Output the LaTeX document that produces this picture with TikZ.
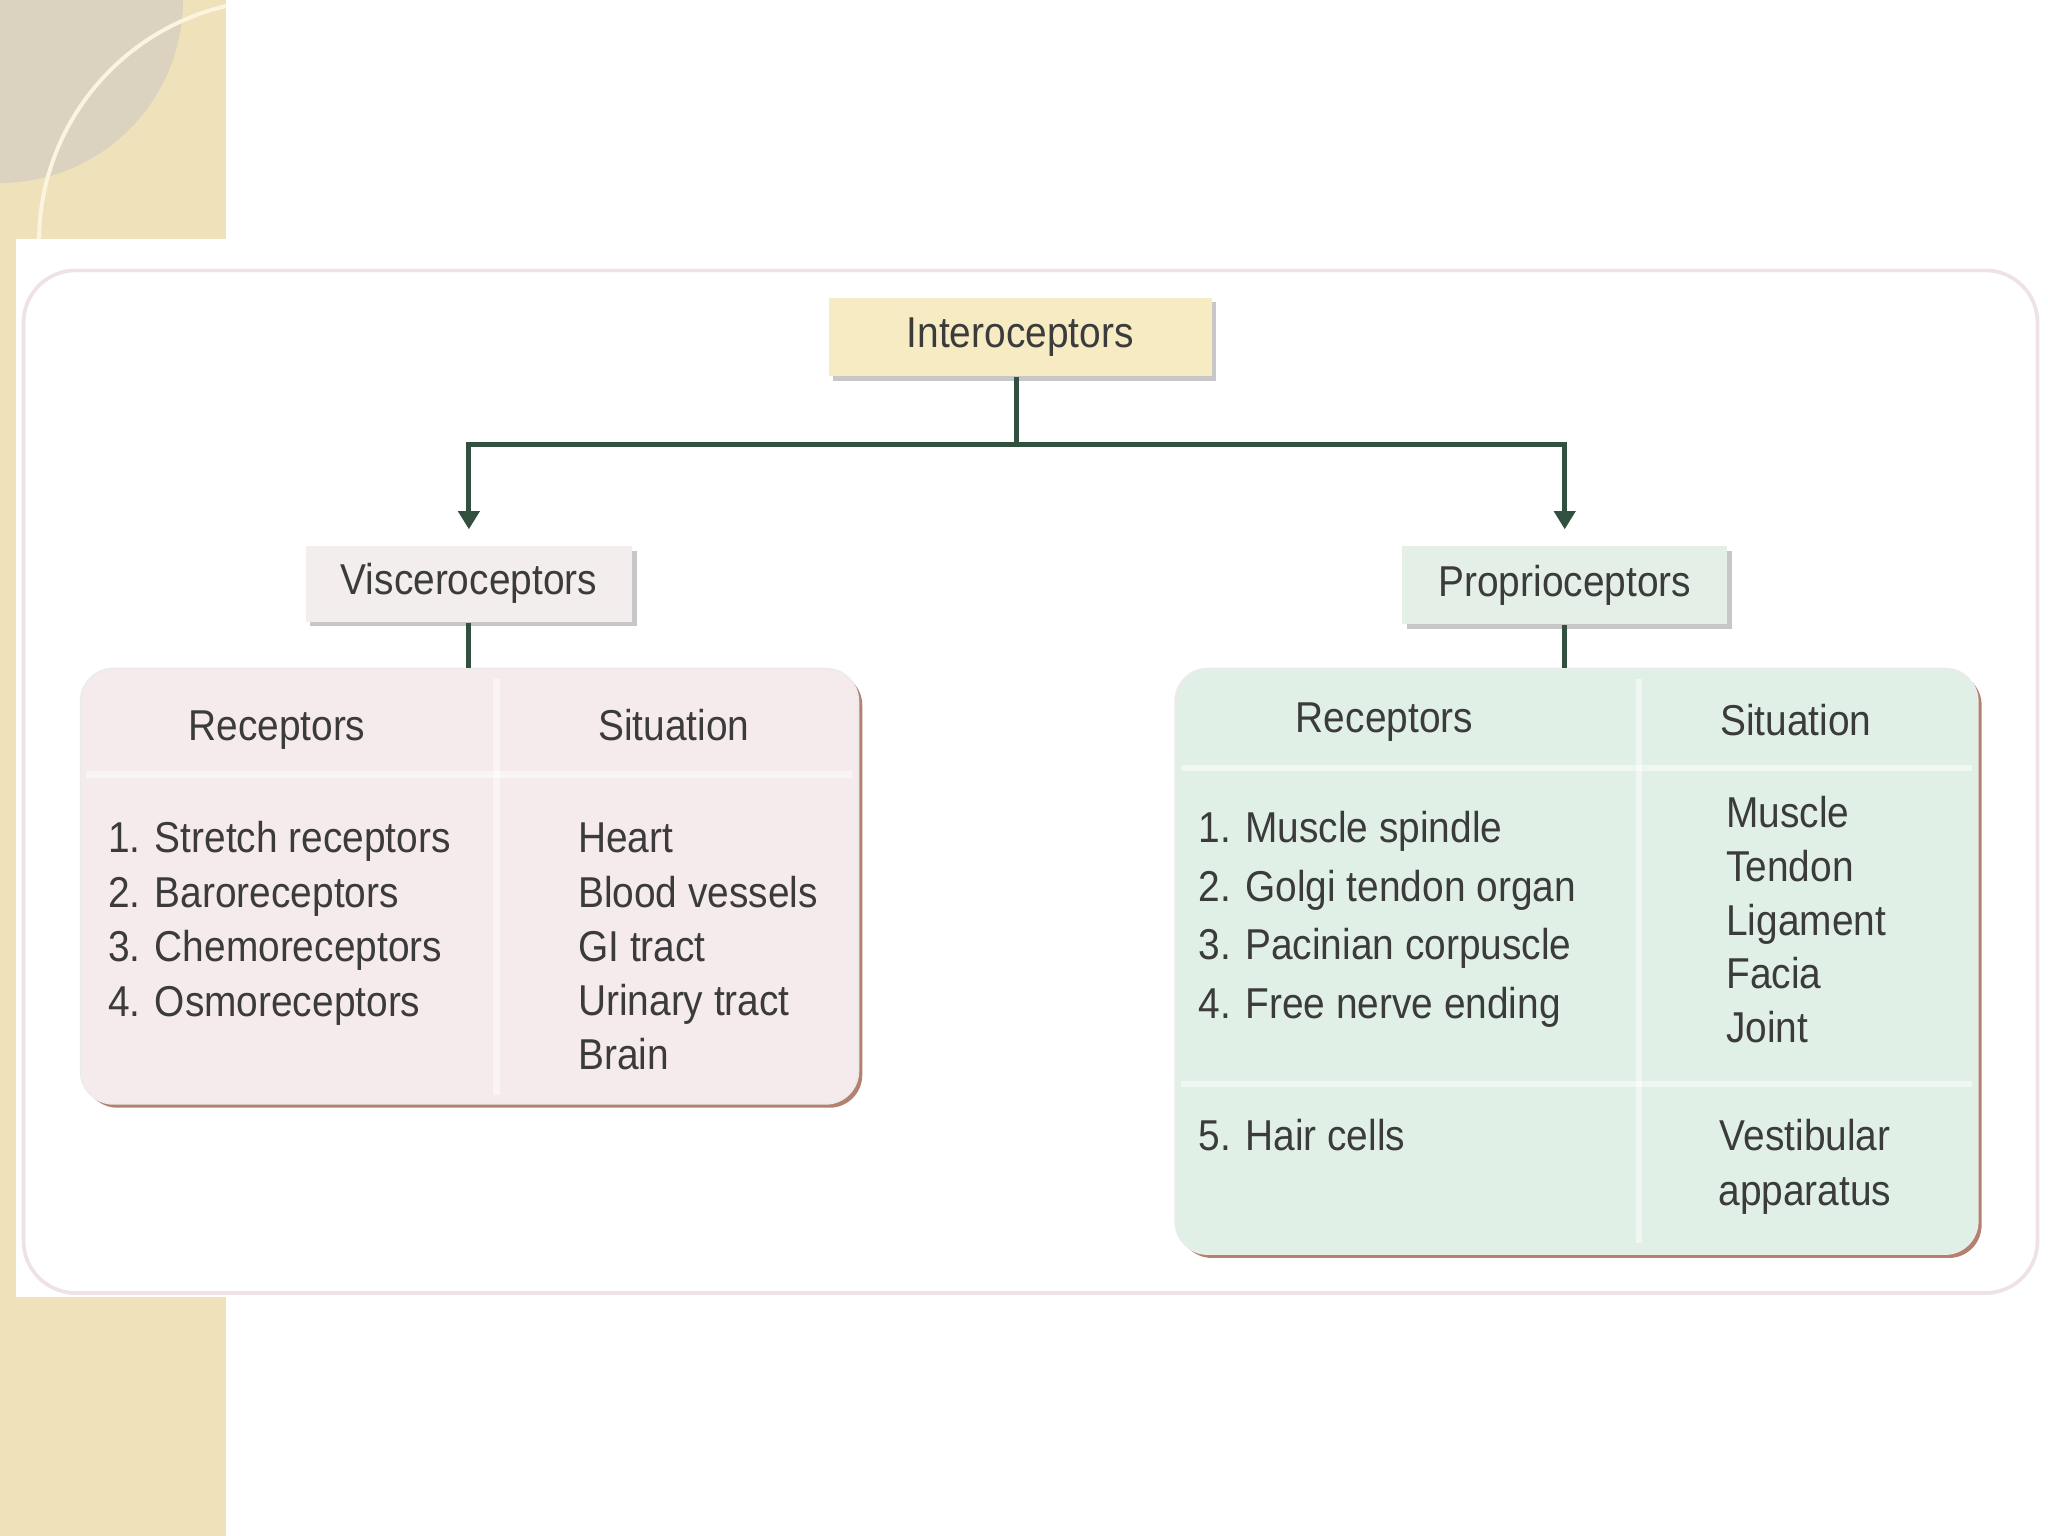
\documentclass[tikz,border=0pt]{standalone}
\usepackage{fontspec}
\setmainfont{Liberation Sans}[FakeStretch=0.9]
\usetikzlibrary{arrows.meta,positioning,shadows}
\definecolor{stripe}{HTML}{EFE1BA}
\definecolor{blob}{HTML}{DBD3BF}
\definecolor{ring}{HTML}{FBF4DF}
\definecolor{linkgreen}{HTML}{31503F}
\definecolor{introfill}{HTML}{F7EBC4}
\definecolor{viscfill}{HTML}{F3EDED}
\definecolor{propfill}{HTML}{E4EFE8}
\definecolor{vtabfill}{HTML}{F6EBEC}
\definecolor{ptabfill}{HTML}{E1F0E7}
\definecolor{tabedge}{HTML}{B4806F}
\definecolor{frameline}{HTML}{EEE2E4}
\definecolor{ink}{HTML}{3B3B3B}
\tikzstyle{arrow} = [line width=1.1pt, linkgreen, -{Triangle[width=0.16cm,length=0.14cm]}]
\tikzstyle{link} = [line width=1.1pt, linkgreen]
\tikzstyle{headbox} = [inner sep=0pt, text=ink, font=\fontsize{9.4}{11}\selectfont,
  drop shadow={shadow xshift=0.035cm,shadow yshift=-0.035cm,fill=black!22,opacity=1}]
\tikzstyle{table} = [rounded corners=0.25cm, inner sep=0pt, draw=black!8, line width=0.4pt,
  drop shadow={shadow xshift=0.03cm,shadow yshift=-0.03cm,fill=tabedge,opacity=1}]
\tikzstyle{txt} = [anchor=base west, inner sep=0pt, text=ink, font=\fontsize{9.4}{11}\selectfont]
\tikzstyle{head} = [anchor=base, inner sep=0pt, text=ink, font=\fontsize{9.4}{11}\selectfont]
\tikzstyle{sep} = [line width=0.05cm, white, opacity=0.5]

\begin{document}
\begin{tikzpicture}[x=0.01cm,y=-0.01cm]
\useasboundingbox (0,0) rectangle (1568,1176);
\fill[white] (0,0) rectangle (1568,1176);
% slide background
\fill[stripe] (0,0) rectangle (173,1176);
\begin{scope}
  \clip (0,0) rectangle (173,1176);
  \fill[blob] (0,0) circle (1.4cm);
  \draw[ring, line width=0.03cm] (215,185) circle (1.85cm);
\end{scope}
\fill[white] (12,183) rectangle (1568,993);
\draw[frameline, line width=0.8pt, rounded corners=0.4cm] (18,207) rectangle (1560,990);

% boxes
\node[headbox, fill=introfill, minimum width=2.93cm, minimum height=0.60cm] (intero) at (781,258) {Interoceptors};
\node[headbox, fill=viscfill, minimum width=2.50cm, minimum height=0.58cm] (visc) at (359,447) {Visceroceptors};
\node[headbox, fill=propfill, minimum width=2.49cm, minimum height=0.60cm] (prop) at (1198,448) {Proprioceptors};

% tables
\node[table, fill=vtabfill, minimum width=5.95cm, minimum height=3.33cm] (vtab) at (359.5,678.5) {};
\node[table, fill=ptabfill, minimum width=6.14cm, minimum height=4.48cm] (ptab) at (1207,736) {};

% connectors
\coordinate (fork) at (778,340);
\draw[link] (intero.south -| fork) -- (fork);
\draw[arrow, shorten >=0.12cm] (fork) -| (visc.north);
\draw[arrow, shorten >=0.12cm] (fork) -| (prop.north);
\draw[link] (visc.south) -- (visc.south |- vtab.north);
\draw[link] (prop.south) -- (prop.south |- ptab.north);

% table rules
\draw[sep] (66,593) -- (652,593);
\draw[sep] (380,520) -- (380,838);
\draw[sep] (904,588) -- (1510,588);
\draw[sep] (904,830) -- (1510,830);
\draw[sep] (1255,520) -- (1255,952);

% left table
\node[head] (vrh) at (212,567) {Receptors};
\node[head] (vsh) at (516,567) {Situation};
\foreach \txt [count=\i] in {1. Stretch receptors, 2. Baroreceptors, 3. Chemoreceptors, 4. Osmoreceptors}
  \node[txt] (vr\i) at (82,{611.3+41.7*\i}) {\txt};
\foreach \txt [count=\i] in {Heart, Blood vessels, GI tract, Urinary tract, Brain}
  \node[txt] (vs\i) at (442,{611.5+41.5*\i}) {\txt};

% right table
\node[head] (prh) at (1060,561) {Receptors};
\node[head] (psh) at (1375,563) {Situation};
\foreach \txt [count=\i] in {1. Muscle spindle, 2. Golgi tendon organ, 3. Pacinian corpuscle, 4. Free nerve ending}
  \node[txt] (pr\i) at (917,{600+45*\i}) {\txt};
\foreach \txt [count=\i] in {Muscle, Tendon, Ligament, Facia, Joint}
  \node[txt] (ps\i) at (1321,{592+41.3*\i}) {\txt};
\node[txt] (pr5) at (917,881) {5. Hair cells};
\node[txt] (ps6) at (1316,881) {Vestibular};
\node[txt] (ps7) at (1315,923) {apparatus};
\end{tikzpicture}
\end{document}
